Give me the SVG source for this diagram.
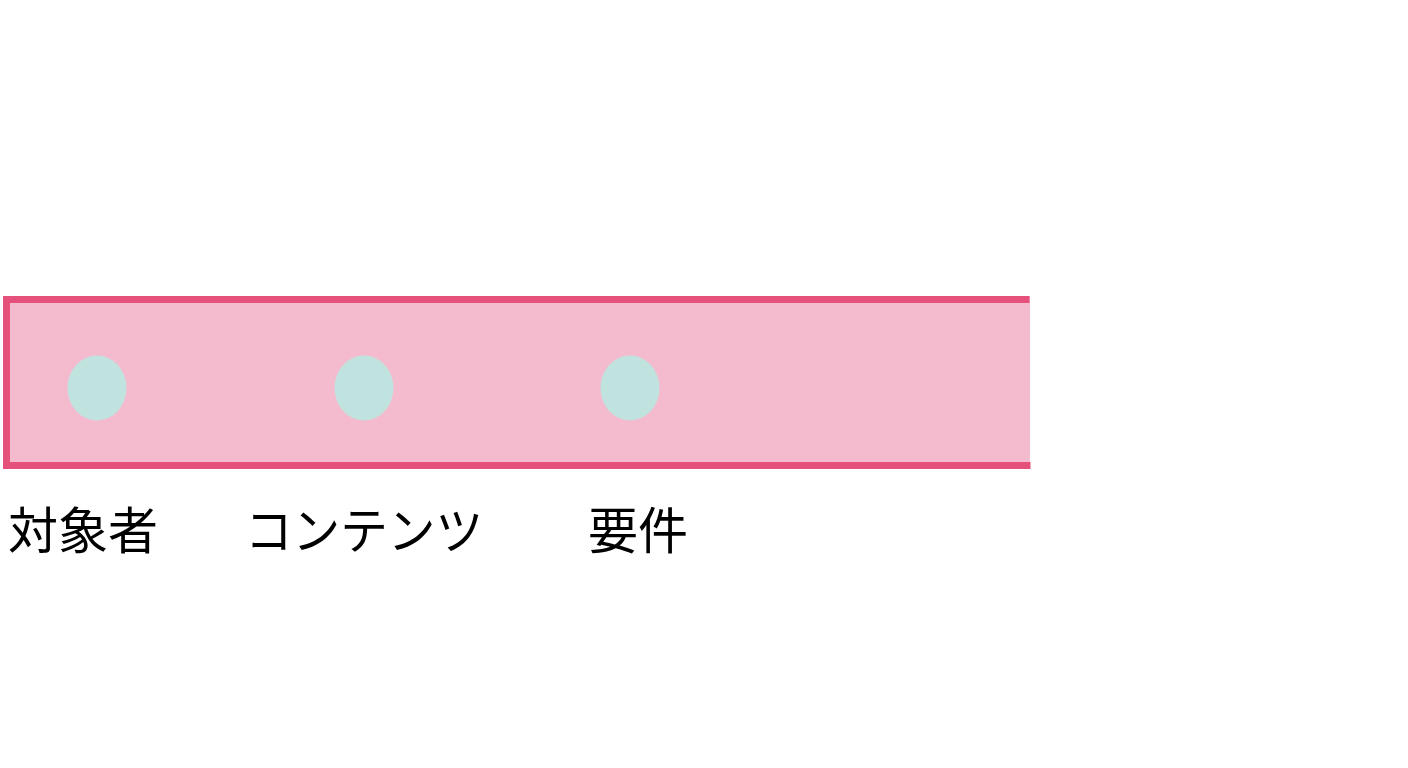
<svg xmlns="http://www.w3.org/2000/svg" width="1408" height="768" viewBox="0 0 1408 768">
<style>
.lbl{font-family:"Noto Sans CJK JP","Noto Sans",sans-serif;font-size:50px;fill:#000}
.dot{fill:#c0e3df}
</style>
<rect width="1408" height="768" fill="#ffffff"/>
<g id="band">
<rect x="3" y="296" width="1027" height="173" fill="#f4bbcf"/>
<path d="M1029.5 299.5 H6.5 V465.5 H1030.5" fill="none" stroke="#e5517b" stroke-width="7"/>
</g>
<g id="node-taishosha">
<ellipse class="dot" cx="97" cy="388" rx="29.5" ry="32.5"/>
<text class="lbl" x="8" y="549">対象者</text>
</g>
<g id="node-contents">
<ellipse class="dot" cx="364" cy="388" rx="29.5" ry="32.5"/>
<text class="lbl" x="245" y="549" textLength="238" lengthAdjust="spacingAndGlyphs">コンテンツ</text>
</g>
<g id="node-yoken">
<ellipse class="dot" cx="630" cy="388" rx="29.5" ry="32.5"/>
<text class="lbl" x="588" y="549">要件</text>
</g>
<g id="connectors"/>
</svg>
